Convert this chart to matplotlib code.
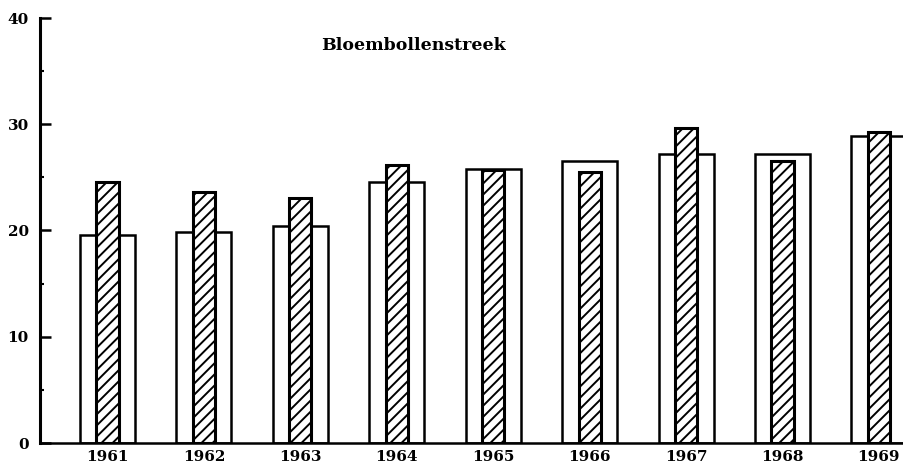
import numpy as np
import matplotlib.pyplot as plt
from matplotlib.ticker import MultipleLocator

years = ["1961", "1962", "1963", "1964", "1965", "1966", "1967", "1968", "1969"]
open_values = [19.6, 19.9, 20.4, 24.6, 25.8, 26.5, 27.2, 27.2, 28.9]
hatched_values = [24.6, 23.6, 23.1, 26.2, 25.7, 25.5, 29.6, 26.5, 29.3]
title = "Bloembollenstreek"

plt.rcParams["hatch.linewidth"] = 1.4
plt.rcParams["font.family"] = "DejaVu Serif"

fig = plt.figure(figsize=(9.04, 4.65), dpi=100)
ax = fig.add_axes([40 / 904, 22 / 465, 864 / 904, 425 / 465])

x = np.arange(len(years))

ax.bar(x, open_values, width=0.57, facecolor="white", edgecolor="black",
       linewidth=1.8, zorder=2)
ax.bar(x, hatched_values, width=0.23, facecolor="white", edgecolor="black",
       linewidth=2.2, hatch="///", zorder=3)

ax.set_xlim(-0.70, 8.26)
ax.set_ylim(0, 40)

ax.set_xticks(x)
ax.set_xticklabels(years, fontsize=11, fontweight="bold")
ax.tick_params(axis="x", length=0, pad=5)

ax.yaxis.set_major_locator(MultipleLocator(10))
ax.yaxis.set_minor_locator(MultipleLocator(5))
ax.tick_params(axis="y", which="major", direction="in", length=8, width=1.8,
               labelsize=11, pad=8)
ax.tick_params(axis="y", which="minor", direction="in", length=3, width=1.5)
for lab in ax.get_yticklabels():
    lab.set_fontweight("bold")

ax.spines["top"].set_visible(False)
ax.spines["right"].set_visible(False)
ax.spines["left"].set_linewidth(2.2)
ax.spines["bottom"].set_linewidth(1.8)

ax.text(0.325, 0.936, title, transform=ax.transAxes, fontsize=12.5,
        fontweight="bold", ha="left", va="center")

fig.savefig("out.png", dpi=100)
